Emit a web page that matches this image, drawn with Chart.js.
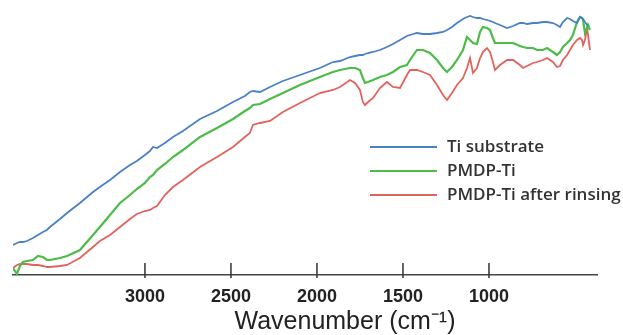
<!DOCTYPE html>
<html>
<head>
<meta charset="utf-8">
<script src="https://cdn.jsdelivr.net/npm/chart.js@4/dist/chart.umd.min.js"></script>
<style>
  html, body { margin: 0; padding: 0; background: #fff; }
  #wrap { width: 623px; height: 335px; }
</style>
</head>
<body>
<div id="wrap"><canvas id="ftir" width="623" height="335"></canvas></div>
<script>
// wavenumbers (cm-1), shared by the three spectra
const wavenumbers = [
  3767,3744,3727,3709,3686,3651,3622,3593,3570,3552,
  3494,3453,3378,3302,3262,3203,3145,3087,3047,3000,
  2971,2953,2930,2884,2837,2779,2680,2581,2488,2419,
  2390,2372,2331,2273,2198,2099,1983,1907,1866,1808,
  1779,1750,1733,1721,1703,1674,1634,1593,1558,1517,
  1477,1459,1419,1384,1343,1302,1267,1244,1215,1186,
  1151,1128,1110,1093,1070,1052,1035,1012,994,977,
  965,936,895,860,820,802,779,744,721,686,
  663,628,605,587,570,546,529,512,488,471,
  459,453,442,430,424,413
];

const tiSubstrate = [
  0.30,0.32,0.33,0.33,0.34,0.37,0.40,0.43,0.45,0.48,
  0.56,0.62,0.72,0.83,0.88,0.95,1.03,1.10,1.14,1.20,
  1.24,1.28,1.27,1.32,1.38,1.44,1.56,1.64,1.73,1.79,
  1.83,1.84,1.83,1.88,1.94,2.00,2.07,2.13,2.14,2.18,
  2.19,2.20,2.20,2.21,2.22,2.23,2.25,2.28,2.31,2.35,
  2.39,2.40,2.42,2.41,2.41,2.42,2.43,2.45,2.48,2.52,
  2.56,2.58,2.59,2.58,2.57,2.57,2.56,2.55,2.54,2.53,
  2.52,2.50,2.47,2.49,2.52,2.52,2.51,2.52,2.52,2.53,
  2.53,2.52,2.50,2.48,2.53,2.57,2.56,2.54,2.52,2.58,
  2.57,2.56,2.53,2.50,2.49,null
];

const pmdpTi = [
  0.07,0.01,0.09,0.13,0.14,0.15,0.19,0.18,0.15,0.15,
  0.17,0.19,0.25,0.40,0.48,0.60,0.72,0.80,0.86,0.92,
  0.98,1.00,1.05,1.11,1.18,1.25,1.38,1.47,1.56,1.64,
  1.67,1.70,1.71,1.76,1.82,1.90,1.98,2.03,2.05,2.07,
  2.07,2.05,1.97,1.92,1.93,1.95,1.98,2.00,2.03,2.08,
  2.10,2.15,2.25,2.25,2.22,2.15,2.07,2.03,2.08,2.15,
  2.25,2.38,2.35,2.32,2.31,2.43,2.48,2.47,2.45,2.37,
  2.32,2.32,2.32,2.32,2.29,2.28,2.27,2.27,2.25,2.25,
  2.27,2.23,2.20,2.23,2.28,2.32,2.35,2.40,2.53,2.58,
  2.57,2.55,2.42,2.47,2.50,2.45
];

const pmdpTiRinsed = [
  0.07,0.10,0.11,0.11,0.11,0.10,0.10,0.09,0.08,0.08,
  0.09,0.10,0.17,0.28,0.34,0.40,0.48,0.56,0.61,0.64,
  0.65,0.67,0.69,0.80,0.88,0.95,1.08,1.18,1.28,1.38,
  1.42,1.50,1.52,1.54,1.63,1.72,1.82,1.85,1.88,1.95,
  1.92,1.85,1.73,1.70,1.73,1.77,1.87,1.93,1.88,1.87,
  2.00,2.05,2.05,2.03,2.00,1.90,1.80,1.75,1.82,1.90,
  1.97,2.07,2.17,2.02,2.07,2.17,2.23,2.27,2.23,2.13,
  2.05,2.10,2.15,2.15,2.10,2.07,2.09,2.12,2.13,2.15,
  2.17,2.13,2.08,2.09,2.15,2.20,2.25,2.30,2.35,2.37,
  2.35,2.30,2.35,2.47,2.40,2.25
];

const seriesNames = ['Ti substrate', 'PMDP-Ti', 'PMDP-Ti after rinsing'];
const seriesColors = ['#4a80c6', '#4cbb48', '#e2625e'];
const xTicks = [3000, 2500, 2000, 1500, 1000];
const xTitle = 'Wavenumber (cm\u207B\u00B9)';

const toPoints = ys => ys.map((y, i) => ({ x: wavenumbers[i], y }));

const overlay = {
    id: 'overlay',
    afterDraw(chart) {
        const { ctx, chartArea } = chart;
        const x = chart.scales.x;
        ctx.save();
        // tick marks standing up from the axis
        ctx.strokeStyle = '#333';
        ctx.lineWidth = 1.5;
        x.ticks.forEach(t => {
            const px = x.getPixelForValue(t.value);
            ctx.beginPath();
            ctx.moveTo(px, chartArea.bottom - 12);
            ctx.lineTo(px, chartArea.bottom + 3);
            ctx.stroke();
        });
        // axis title
        ctx.fillStyle = '#222';
        ctx.font = '25px "Liberation Sans", Arial, sans-serif';
        ctx.textAlign = 'center';
        ctx.textBaseline = 'alphabetic';
        ctx.fillText(xTitle, 345, 329);
        // legend
        ctx.font = '600 17px "Open Sans", sans-serif';
        ctx.textAlign = 'left';
        ctx.textBaseline = 'middle';
        chart.data.datasets.forEach((ds, i) => {
            const y = 147 + i * 24;
            ctx.strokeStyle = ds.borderColor;
            ctx.lineWidth = 2;
            ctx.beginPath();
            ctx.moveTo(370, y);
            ctx.lineTo(437, y);
            ctx.stroke();
            ctx.fillStyle = '#333';
            ctx.fillText(ds.label, 447, y);
        });
        ctx.restore();
    }
};

new Chart(document.getElementById('ftir').getContext('2d'), {
    type: 'line',
    data: {
        datasets: [
            { label: seriesNames[0], data: toPoints(tiSubstrate), borderColor: seriesColors[0], borderWidth: 1.8 },
            { label: seriesNames[1], data: toPoints(pmdpTi), borderColor: seriesColors[1], borderWidth: 2.2 },
            { label: seriesNames[2], data: toPoints(pmdpTiRinsed), borderColor: seriesColors[2], borderWidth: 1.8 }
        ]
    },
    options: {
        responsive: false,
        animation: false,
        layout: { padding: { left: 13, right: 26, top: 0, bottom: 0 } },
        elements: { point: { radius: 0 }, line: { tension: 0, fill: false } },
        plugins: { legend: { display: false }, tooltip: { enabled: false } },
        scales: {
            x: {
                type: 'linear',
                reverse: true,
                min: 372,
                max: 3767,
                grid: { display: false },
                border: { display: true, color: '#444', width: 1.5 },
                afterBuildTicks: s => { s.ticks = xTicks.map(v => ({ value: v })); },
                afterFit: s => { s.height = 60; },
                ticks: {
                    padding: 3,
                    color: '#222',
                    maxRotation: 0,
                    font: { family: '"Liberation Sans", Arial, sans-serif', size: 18, weight: 'bold' },
                    callback: v => String(v)
                }
            },
            y: {
                display: false,
                min: 0,
                max: 2.75
            }
        }
    },
    plugins: [overlay]
});
</script>
</body>
</html>
